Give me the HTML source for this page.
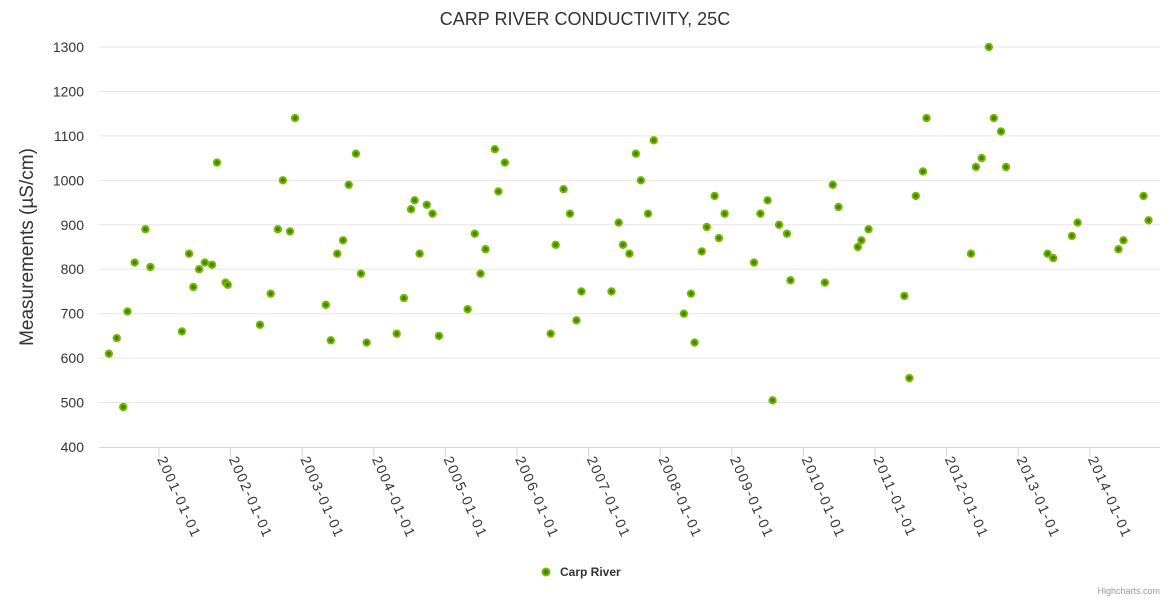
<!DOCTYPE html>
<html><head><meta charset="utf-8"><style>
body{margin:0;background:#fff;}
svg{display:block;font-family:"Liberation Sans",sans-serif;}
</style></head><body>
<svg id="chart" width="1170" height="600">
<text x="585" y="25" text-anchor="middle" font-size="18" fill="#333">CARP RIVER CONDUCTIVITY, 25C</text>
<text transform="translate(33,247) rotate(-90)" text-anchor="middle" font-size="19" fill="#333">Measurements (µS/cm)</text>
<g id="grid"></g><g id="xaxis"></g><g id="points"></g>
<g>
<circle cx="546" cy="572" r="3.5" fill="#3a8a00" stroke="#7cb500" stroke-width="2"/>
<text x="560" y="576" font-size="12" font-weight="bold" fill="#333">Carp River</text>
</g>
<text x="1160" y="594" text-anchor="end" font-size="9" fill="#999">Highcharts.com</text>
</svg>
<script>
const yTicks=[400,500,600,700,800,900,1000,1100,1200,1300];
const xTickYears=[2001,2002,2003,2004,2005,2006,2007,2008,2009,2010,2011,2012,2013,2014];
const dates=[2000.30,2000.41,2000.50,2000.56,2000.66,2000.81,2000.88,2001.32,2001.42,2001.48,2001.56,2001.64,2001.74,2001.81,2001.93,2001.96,2002.41,2002.56,2002.66,2002.73,2002.83,2002.90,2003.33,2003.40,2003.49,2003.57,2003.65,2003.75,2003.82,2003.90,2004.32,2004.42,2004.52,2004.57,2004.64,2004.74,2004.82,2004.91,2005.31,2005.41,2005.49,2005.56,2005.69,2005.74,2005.83,2006.47,2006.54,2006.65,2006.74,2006.83,2006.90,2007.32,2007.42,2007.48,2007.57,2007.66,2007.73,2007.83,2007.91,2008.33,2008.43,2008.48,2008.58,2008.65,2008.76,2008.82,2008.90,2009.31,2009.40,2009.50,2009.57,2009.66,2009.77,2009.82,2010.30,2010.41,2010.49,2010.76,2010.81,2010.91,2011.41,2011.48,2011.57,2011.67,2011.72,2012.34,2012.41,2012.49,2012.59,2012.66,2012.76,2012.83,2013.41,2013.49,2013.75,2013.83,2014.40,2014.47,2014.75,2014.82];
const values=[610,645,490,705,815,890,805,660,835,760,800,815,810,1040,770,765,675,745,890,1000,885,1140,720,640,835,865,990,1060,790,635,655,735,935,955,835,945,925,650,710,880,790,845,1070,975,1040,655,855,980,925,685,750,750,905,855,835,1060,1000,925,1090,700,745,635,840,895,965,870,925,815,925,955,505,900,880,775,770,990,940,850,865,890,740,555,965,1020,1140,835,1030,1050,1300,1140,1110,1030,835,825,875,905,845,865,965,910];
const NS='http://www.w3.org/2000/svg';
const X0=99,X1=1160,Y0=447,Y1=47;
function xs(t){return 159+(t-2001)*71.6;}
function ys(v){return Y0-(v-400)/(1300-400)*(Y0-Y1);}
function mk(tag,attrs,parent){const e=document.createElementNS(NS,tag);for(const k in attrs)e.setAttribute(k,attrs[k]);parent.appendChild(e);return e;}
const grid=document.getElementById('grid');
yTicks.forEach(v=>{
  const y=ys(v);
  if(v>400){const l=mk('line',{x1:X0,x2:X1,y1:y,y2:y,stroke:'#e6e6e6','stroke-width':1},grid);
  
  }
  const t=mk('text',{x:84,y:y+5,'text-anchor':'end','font-size':14,fill:'#333'},grid);
  t.textContent=v;
  
  
});
const xa=document.getElementById('xaxis');
const al=mk('line',{x1:X0,x2:X1,y1:Y0+0.5,y2:Y0+0.5,stroke:'#ccd6eb','stroke-width':1},xa);


xTickYears.forEach(yr=>{
  const x=xs(yr);
  const tk=mk('line',{x1:x,x2:x,y1:Y0,y2:Y0+10,stroke:'#ccd6eb'},xa);
  
  
  const t=mk('text',{x:0,y:0,'font-size':14,'letter-spacing':'1.6',fill:'#333',transform:'translate('+(x-2)+','+(Y0+12)+') rotate(66)'},xa);
  t.textContent=yr+'-01-01';
  
  
});
const pg=document.getElementById('points');
dates.forEach((d,i)=>{
  const c=mk('circle',{cx:xs(d),cy:ys(values[i]),r:3.2,fill:'#3a8a00',stroke:'#7cb500','stroke-width':2},pg);
  
  
});
</script>
</body></html>
